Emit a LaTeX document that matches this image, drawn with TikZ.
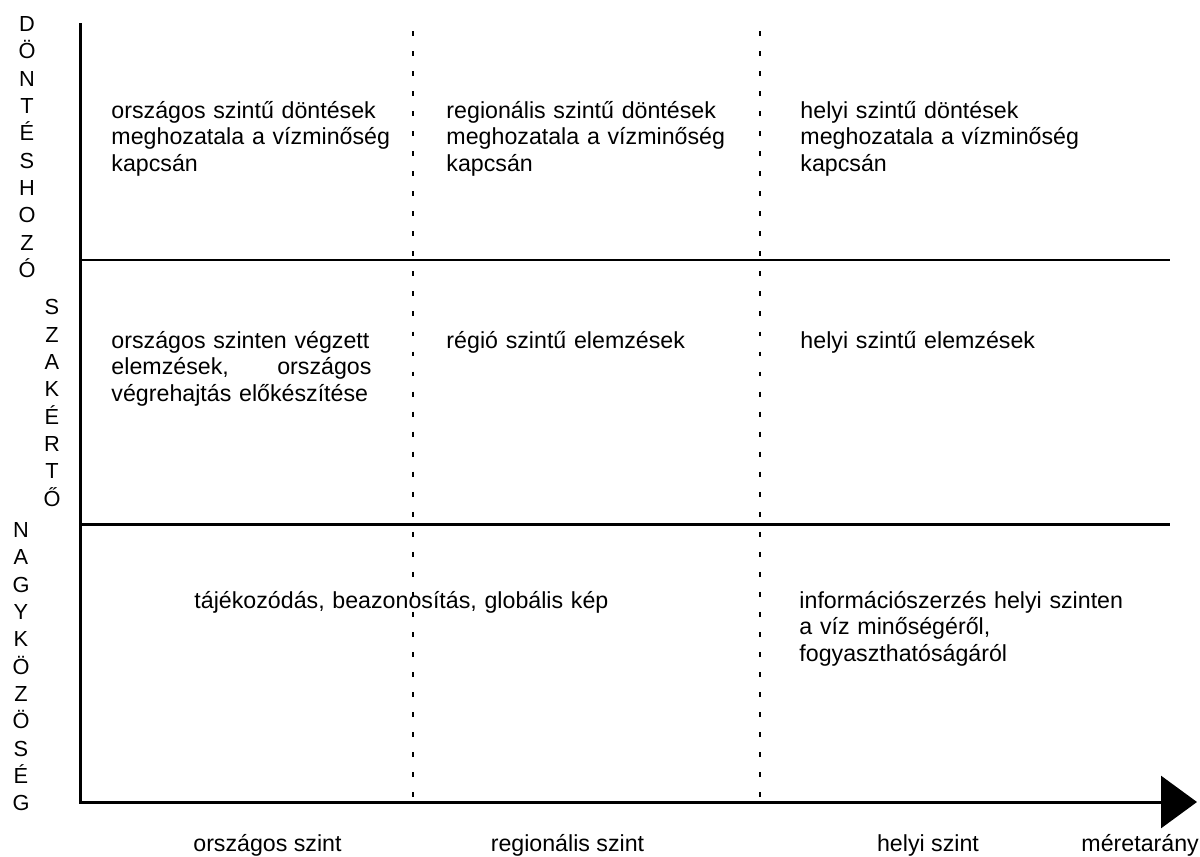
\documentclass[tikz,border=0pt]{standalone}
\usepackage{fontspec}
\setmainfont{Liberation Sans}
\usetikzlibrary{arrows.meta}

\begin{document}
\begin{tikzpicture}[scale=1.0, line width=0.85pt,
  cell/.style={anchor=base west, inner sep=0pt, align=left, text width=3.3cm, font=\fontsize{6.6}{7.6}\selectfont},
  axislabel/.style={anchor=base, inner sep=0pt, font=\fontsize{6.6}{7.6}\selectfont},
  role/.style={anchor=north, inner sep=0pt, align=center, font=\fontsize{6.2}{7.78}\selectfont},
  divider/.style={line width=0.85pt, dash pattern=on 1.4pt off 4.3pt}]
  \useasboundingbox (0,0) rectangle (12,8.56);
  \coordinate (O) at (0.805,0.54);
  \coordinate (Y) at (0.805,8.33);
  \coordinate (X) at (11.97,0.54);
  \coordinate (A) at (0.805,5.96);
  \coordinate (B) at (11.70,5.96);
  \coordinate (C) at (0.805,3.32);
  \coordinate (D) at (11.70,3.32);
  \coordinate (E) at (4.13,8.25);
  \coordinate (F) at (4.13,0.56);
  \coordinate (G) at (7.60,8.25);
  \coordinate (H) at (7.60,0.56);
  % axes and rows
  \draw[-{Triangle[length=0.36cm,width=0.52cm]}] (Y) -- (O) -- (X);
  \draw (A) -- (B);
  \draw (C) -- (D);
  % roles
  \node[role] (dontes) at (0.27,8.41) {D\\Ö\\N\\T\\É\\S\\H\\O\\Z\\Ó};
  \node[role] (szakerto) at (0.52,5.58) {S\\Z\\A\\K\\É\\R\\T\\Ő};
  \node[role] (kozosseg) at (0.21,3.35) {N\\A\\G\\Y\\K\\Ö\\Z\\Ö\\S\\É\\G};
  % cells
  \node[cell] (orszdont) at (1.10,7.38) {országos szintű döntések\\meghozatala a vízminőség\\kapcsán};
  \node[cell] (regdont) at (4.45,7.38) {regionális szintű döntések\\meghozatala a vízminőség\\kapcsán};
  \node[cell] (helydont) at (7.99,7.38) {helyi szintű döntések\\meghozatala a vízminőség\\kapcsán};
  \node[cell, text width=2.6cm] (orszelem) at (1.10,5.08) {országos szinten végzett\\elemzések,\hfill országos\\végrehajtás előkészítése};
  \node[cell] (regelem) at (4.45,5.08) {régió szintű elemzések};
  \node[cell] (helyelem) at (7.99,5.08) {helyi szintű elemzések};
  \node[cell, text width=4.5cm] (tajek) at (1.93,2.48) {tájékozódás, beazonosítás, globális kép};
  \node[cell] (info) at (7.98,2.48) {információszerzés helyi szinten\\a víz minőségéről,\\fogyaszthatóságáról};
  % scale labels
  \node[axislabel] (orszag) at (2.675,0.05) {országos szint};
  \node[axislabel] (regio) at (5.675,0.05) {regionális szint};
  \node[axislabel] (helyi) at (9.28,0.05) {helyi szint};
  \node[axislabel, anchor=base west] (meret) at (10.80,0.05) {méretarány};
  % dotted dividers
  \draw[divider] (E) -- (F);
  \draw[divider] (G) -- (H);
\end{tikzpicture}
\end{document}
